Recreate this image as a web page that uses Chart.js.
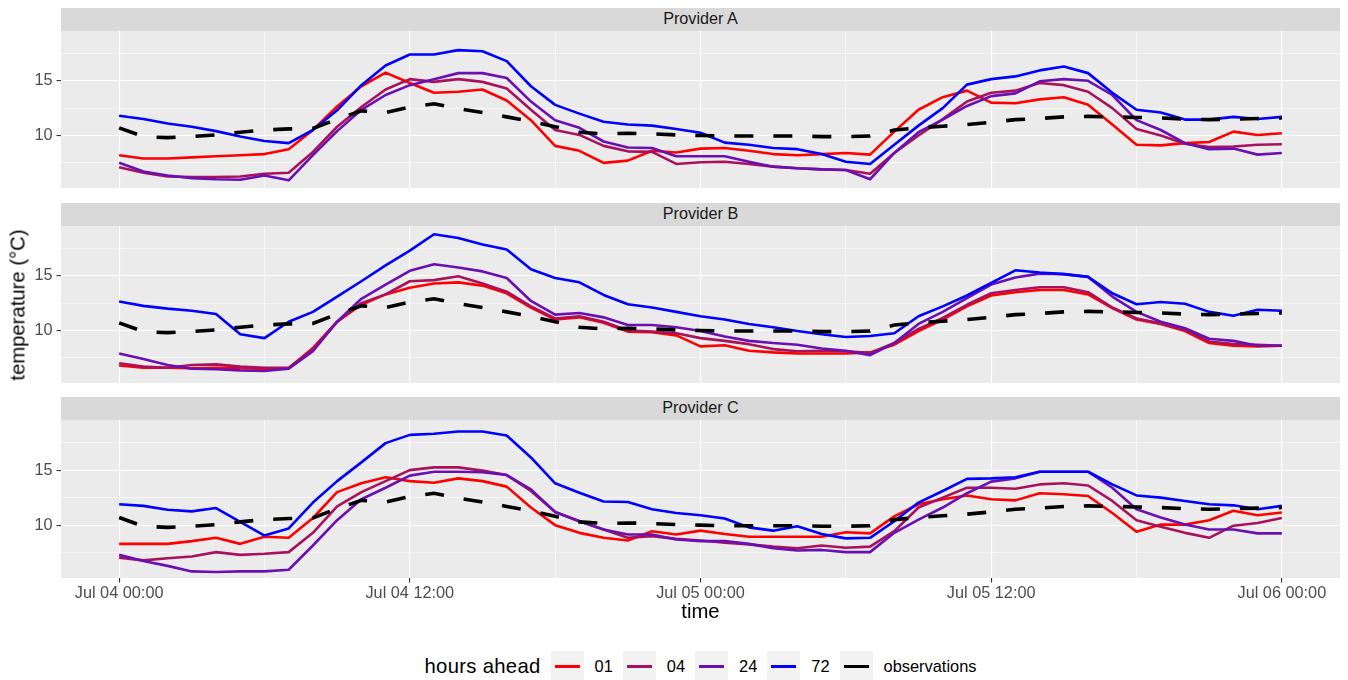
<!DOCTYPE html>
<html>
<head>
<meta charset="utf-8">
<script src="https://cdn.jsdelivr.net/npm/chart.js@4.4.0/dist/chart.umd.min.js"></script>
<style>
  body { margin: 0; background: #fff; font-family: "Liberation Sans", Arial, sans-serif; }
  #page { position: relative; width: 1348px; height: 680px; overflow: hidden; }
  .strip { position: absolute; left: 61px; width: 1279px; height: 23px; background: #D9D9D9;
           color: #1A1A1A; font-size: 16.2px; text-align: center; line-height: 21px; }
  canvas { position: absolute; left: 0; }
  #ytitle { position: absolute; left: 18px; top: 305px; transform: translate(-50%, -50%) rotate(-90deg);
            font-size: 20.3px; white-space: nowrap; color: #000; }
  #xtitle { position: absolute; left: 61px; width: 1279px; top: 600px; text-align: center;
            font-size: 20.3px; color: #000; }
  #legend { position: absolute; left: 61px; width: 1279px; top: 651px; height: 30px;
            display: flex; justify-content: center; align-items: center; color: #000; }
  #legend .title { font-size: 20.3px; margin-right: 10px; letter-spacing: 0.3px; }
  #legend .key { width: 33px; height: 30px; background: #F2F2F2; position: relative; }
  #legend .key span { position: absolute; left: 4px; right: 4px; top: 13.5px; height: 3px; }
  #legend .lab { font-size: 16.4px; margin-left: 11px; margin-right: 10px; }
  #legend .lab:last-child { margin-right: 0; }
</style>
</head>
<body>
<div id="page">
  <div class="strip" style="top:8px">Provider A</div>
  <canvas id="chartA" width="1348" height="157" style="top:31px"></canvas>
  <div class="strip" style="top:203px">Provider B</div>
  <canvas id="chartB" width="1348" height="157" style="top:226px"></canvas>
  <div class="strip" style="top:397px">Provider C</div>
  <canvas id="chartC" width="1348" height="184" style="top:420px"></canvas>
  <div id="ytitle">temperature (°C)</div>
  <div id="xtitle">time</div>
  <div id="legend"></div>
</div>
<script>
// hours since Jul 04 00:00
const hours = [0, 1, 2, 3, 4, 5, 6, 7, 8, 9, 10, 11, 12, 13, 14, 15, 16, 17, 18, 19, 20, 21, 22, 23, 24,
               25, 26, 27, 28, 29, 30, 31, 32, 33, 34, 35, 36, 37, 38, 39, 40, 41, 42, 43, 44, 45, 46, 47, 48];

const xTickHours = [0, 12, 24, 36, 48];
const xTickLabels = ['Jul 04 00:00', 'Jul 04 12:00', 'Jul 05 00:00', 'Jul 05 12:00', 'Jul 06 00:00'];
const yTickValues = [10, 15];

const seriesNames = ['01', '04', '24', '72'];
const seriesColors = ['#FF0000', '#A8125C', '#6A10B2', '#0000FF'];

// observations (same in every panel)
const observations = [10.7, 9.9, 9.8, 9.9, 10.05, 10.3, 10.5, 10.6, 10.65, 11.5, 12.25, 12.1, 12.6, 12.9, 12.45, 12.1, 11.7, 11.3, 10.8, 10.3, 10.15, 10.2, 10.15, 10.05, 10.0,
                      9.95, 9.95, 9.95, 9.95, 9.9, 9.9, 9.95, 10.5, 10.7, 10.85, 11.0, 11.2, 11.45, 11.55, 11.7, 11.75, 11.7, 11.65, 11.6, 11.5, 11.45, 11.5, 11.55, 11.6];

// Provider A
const provA_01 = [8.2, 7.9, 7.9, 8.0, 8.1, 8.2, 8.3, 8.75, 10.5, 12.65, 14.5, 15.75, 14.8, 13.9, 14.0, 14.2, 13.2, 11.4, 9.05, 8.6, 7.5, 7.7, 8.6, 8.45, 8.8,
                  8.85, 8.6, 8.3, 8.2, 8.3, 8.4, 8.25, 10.35, 12.35, 13.5, 14.1, 13.0, 12.95, 13.3, 13.5, 12.8, 11.0, 9.15, 9.1, 9.3, 9.4, 10.35, 10.05, 10.2];
const provA_04 = [7.1, 6.6, 6.25, 6.2, 6.2, 6.25, 6.5, 6.6, 8.5, 10.8, 12.6, 14.2, 15.15, 14.9, 15.15, 14.9, 14.3, 12.35, 10.5, 10.05, 9.05, 8.55, 8.5, 7.4, 7.55,
                  7.6, 7.4, 7.15, 7.0, 6.9, 6.85, 6.5, 8.4, 10.0, 11.5, 13.1, 13.9, 14.1, 14.8, 14.6, 14.0, 12.5, 10.6, 10.0, 9.25, 8.95, 9.0, 9.15, 9.2];
const provA_24 = [7.5, 6.7, 6.35, 6.1, 6.0, 5.95, 6.35, 5.9, 8.2, 10.4, 12.35, 13.7, 14.6, 15.15, 15.7, 15.7, 15.25, 13.1, 11.4, 10.7, 9.45, 8.9, 8.85, 8.1, 8.1,
                  8.1, 7.6, 7.15, 7.0, 6.9, 6.85, 6.0, 8.4, 10.3, 11.45, 12.7, 13.6, 13.85, 14.95, 15.15, 15.0, 13.7, 11.4, 10.5, 9.3, 8.75, 8.8, 8.25, 8.4];
const provA_72 = [11.8, 11.5, 11.1, 10.8, 10.4, 9.9, 9.5, 9.3, 10.5, 12.3, 14.6, 16.4, 17.4, 17.4, 17.8, 17.7, 16.8, 14.5, 12.8, 12.0, 11.25, 11.0, 10.9, 10.6, 10.25,
                  9.35, 9.15, 8.85, 8.75, 8.3, 7.6, 7.4, 9.15, 10.9, 12.5, 14.65, 15.15, 15.4, 15.95, 16.3, 15.7, 13.9, 12.35, 12.1, 11.45, 11.45, 11.7, 11.5, 11.7];

// Provider B
const provB_01 = [6.8, 6.6, 6.6, 6.55, 6.6, 6.6, 6.45, 6.55, 8.4, 10.8, 12.35, 13.3, 13.9, 14.3, 14.4, 14.1, 13.4, 12.1, 11.0, 11.2, 10.7, 9.9, 9.85, 9.55, 8.55,
                  8.65, 8.15, 8.0, 7.9, 7.9, 7.9, 8.0, 8.7, 9.95, 11.0, 12.2, 13.2, 13.5, 13.7, 13.7, 13.3, 12.05, 11.0, 10.6, 9.95, 8.85, 8.6, 8.55, 8.6];
const provB_04 = [7.0, 6.7, 6.6, 6.85, 6.9, 6.7, 6.6, 6.6, 8.3, 10.8, 12.5, 13.3, 14.5, 14.6, 14.95, 14.3, 13.55, 12.2, 11.1, 11.3, 10.8, 10.0, 9.9, 9.75, 9.3,
                  9.05, 8.75, 8.3, 8.1, 8.15, 8.1, 7.95, 8.85, 10.15, 11.15, 12.35, 13.4, 13.7, 13.95, 13.95, 13.5, 12.1, 11.1, 10.65, 10.05, 9.0, 8.75, 8.7, 8.6];
const provB_24 = [7.9, 7.4, 6.85, 6.5, 6.45, 6.35, 6.3, 6.5, 8.1, 10.8, 12.9, 14.2, 15.45, 16.05, 15.75, 15.4, 14.8, 12.7, 11.45, 11.6, 11.2, 10.5, 10.5, 10.3, 9.95,
                  9.45, 9.05, 8.85, 8.7, 8.35, 8.15, 7.75, 8.85, 10.6, 11.7, 12.95, 14.2, 14.85, 15.2, 15.15, 14.9, 13.1, 11.7, 10.8, 10.2, 9.25, 9.05, 8.6, 8.6];
const provB_72 = [12.65, 12.25, 12.0, 11.8, 11.5, 9.65, 9.3, 10.8, 11.7, 13.1, 14.5, 15.95, 17.3, 18.8, 18.45, 17.85, 17.4, 15.6, 14.8, 14.4, 13.25, 12.4, 12.1, 11.7, 11.3,
                  11.0, 10.6, 10.3, 9.95, 9.65, 9.4, 9.5, 9.75, 11.3, 12.2, 13.2, 14.35, 15.5, 15.3, 15.15, 14.9, 13.4, 12.4, 12.6, 12.45, 11.7, 11.35, 11.9, 11.8];

// Provider C
const provC_01 = [8.3, 8.3, 8.3, 8.55, 8.85, 8.3, 8.95, 8.85, 10.65, 13.0, 13.8, 14.35, 14.0, 13.85, 14.25, 14.0, 13.5, 11.6, 10.0, 9.3, 8.85, 8.6, 9.45, 9.15, 9.5,
                  9.2, 8.95, 8.95, 8.95, 8.95, 9.35, 9.25, 10.8, 11.9, 12.35, 12.7, 12.35, 12.25, 12.9, 12.8, 12.65, 11.1, 9.4, 10.05, 10.05, 10.45, 11.3, 10.9, 11.15];
const provC_04 = [7.05, 6.8, 7.0, 7.15, 7.55, 7.3, 7.4, 7.55, 9.3, 11.7, 13.0, 14.0, 15.0, 15.25, 15.25, 14.95, 14.55, 13.1, 11.2, 10.35, 9.6, 8.85, 9.0, 8.75, 8.6,
                  8.4, 8.25, 8.05, 7.9, 8.15, 7.95, 8.05, 9.45, 11.6, 12.5, 13.4, 13.4, 13.3, 13.7, 13.8, 13.6, 12.2, 10.45, 9.85, 9.3, 8.85, 9.95, 10.2, 10.65];
const provC_24 = [7.3, 6.75, 6.3, 5.8, 5.75, 5.8, 5.8, 5.95, 8.15, 10.45, 12.35, 13.4, 14.5, 14.85, 14.85, 14.8, 14.55, 13.25, 11.2, 10.35, 9.6, 9.15, 9.15, 8.7, 8.55,
                  8.55, 8.3, 7.9, 7.7, 7.75, 7.55, 7.55, 9.3, 10.5, 11.6, 12.9, 13.95, 14.25, 14.85, 14.85, 14.85, 13.4, 11.45, 10.7, 10.05, 9.6, 9.6, 9.25, 9.25];
const provC_72 = [11.9, 11.75, 11.4, 11.25, 11.55, 10.3, 9.05, 9.7, 12.05, 14.0, 15.7, 17.45, 18.2, 18.3, 18.5, 18.5, 18.15, 16.15, 13.8, 12.95, 12.15, 12.1, 11.45, 11.1, 10.9,
                  10.6, 9.8, 9.5, 9.9, 9.2, 8.8, 8.85, 10.35, 12.05, 13.1, 14.2, 14.25, 14.35, 14.85, 14.85, 14.85, 13.7, 12.7, 12.5, 12.2, 11.9, 11.8, 11.45, 11.75];

// fondo gris del panel
const panelBg = {
    id: 'panelBg',
    beforeDraw(chart) {
        const a = chart.chartArea;
        chart.ctx.save();
        chart.ctx.fillStyle = '#EBEBEB';
        chart.ctx.fillRect(a.left, a.top, a.right - a.left, a.bottom - a.top);
        chart.ctx.restore();
    }
};

function toPoints(values) {
    return hours.map((h, i) => ({ x: h, y: values[i] }));
}

function makePanel(id, forecasts, showX) {
    const datasets = forecasts.map((vals, i) => ({
        label: seriesNames[i],
        data: toPoints(vals),
        borderColor: seriesColors[i],
        borderWidth: 2.6,
        pointRadius: 0,
        tension: 0,
        fill: false,
        borderJoinStyle: 'round',
        order: 5 - i  // ggplot dibuja 72 encima de 24, etc.
    }));
    datasets.push({
        label: 'observations',
        data: toPoints(observations),
        borderColor: '#000000',
        borderWidth: 3.6,
        borderDash: [19, 20],
        borderCapStyle: 'butt',
        pointRadius: 0,
        tension: 0,
        fill: false,
        order: 0
    });

    const isMajorX = v => v % 12 === 0;
    const isMajorY = v => v % 5 === 0;

    return new Chart(document.getElementById(id), {
        type: 'line',
        data: { datasets: datasets },
        plugins: [panelBg],
        options: {
            responsive: false,
            animation: false,
            layout: { padding: { left: 0, right: 8, top: 0, bottom: 0 } },
            plugins: { legend: { display: false }, tooltip: { enabled: false } },
            scales: {
                x: {
                    type: 'linear',
                    min: -2.4,
                    max: 50.4,
                    afterBuildTicks: s => { s.ticks = [0, 6, 12, 18, 24, 30, 36, 42, 48].map(v => ({ value: v })); },
                    afterFit: s => { s.height = showX ? 26 : 0; s.paddingLeft = 0; s.paddingRight = 0; },
                    border: { display: false },
                    grid: {
                        color: '#FFFFFF',
                        lineWidth: c => isMajorX(c.tick.value) ? 1.1 : 0.55,
                        drawTicks: showX,
                        tickLength: 4.5,
                        tickColor: c => isMajorX(c.tick.value) ? '#333333' : 'rgba(0,0,0,0)',
                        tickWidth: 1.1
                    },
                    ticks: {
                        display: showX,
                        autoSkip: false,
                        maxRotation: 0,
                        padding: 1,
                        color: '#4D4D4D',
                        font: { family: '"Liberation Sans", Arial, sans-serif', size: 16.3 },
                        callback: v => { const k = xTickHours.indexOf(v); return k >= 0 ? xTickLabels[k] : ''; }
                    }
                },
                y: {
                    type: 'linear',
                    min: 5.2,
                    max: 19.55,
                    afterBuildTicks: s => { s.ticks = [7.5, 10, 12.5, 15, 17.5].map(v => ({ value: v })); },
                    afterFit: s => { s.width = 61; s.paddingTop = 0; s.paddingBottom = 0; },
                    border: { display: false },
                    grid: {
                        color: '#FFFFFF',
                        lineWidth: c => isMajorY(c.tick.value) ? 1.1 : 0.55,
                        tickLength: 4.5,
                        tickColor: c => isMajorY(c.tick.value) ? '#333333' : 'rgba(0,0,0,0)',
                        tickWidth: 1.1
                    },
                    ticks: {
                        autoSkip: false,
                        padding: 4,
                        color: '#4D4D4D',
                        font: { family: '"Liberation Sans", Arial, sans-serif', size: 16.3 },
                        callback: v => yTickValues.includes(v) ? String(v) : ''
                    }
                }
            }
        }
    });
}

makePanel('chartA', [provA_01, provA_04, provA_24, provA_72], false);
makePanel('chartB', [provB_01, provB_04, provB_24, provB_72], false);
makePanel('chartC', [provC_01, provC_04, provC_24, provC_72], true);

// leyenda
const legend = document.getElementById('legend');
let html = '<span class="title">hours ahead</span>';
seriesNames.forEach((n, i) => {
    html += '<span class="key"><span style="background:' + seriesColors[i] + '"></span></span><span class="lab">' + n + '</span>';
});
html += '<span class="key"><span style="background:#000"></span></span><span class="lab">observations</span>';
legend.innerHTML = html;
</script>
</body>
</html>
